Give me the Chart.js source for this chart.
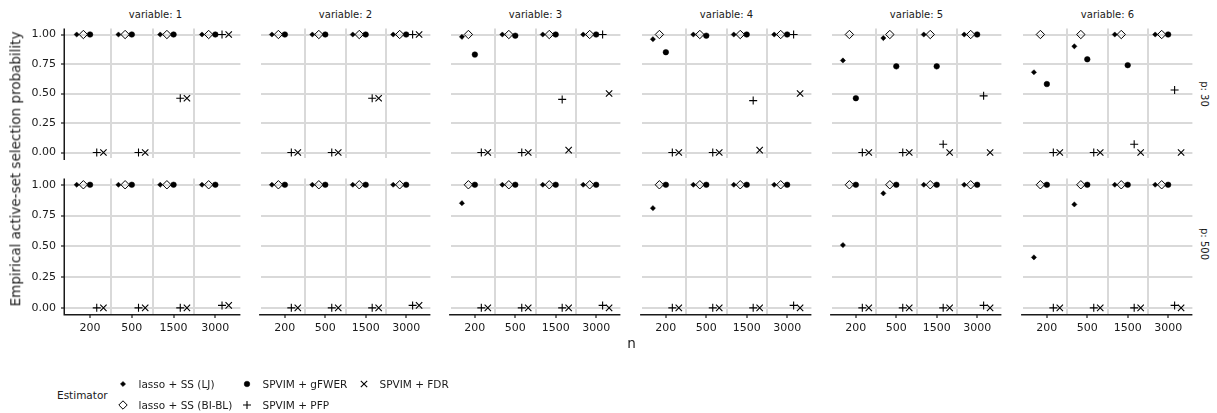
<!DOCTYPE html>
<html>
<head>
<meta charset="utf-8">
<script src="https://cdn.jsdelivr.net/npm/chart.js@4.4.1/dist/chart.umd.min.js"></script>
<style>
  html, body { margin: 0; padding: 0; background: #fff; }
  body { width: 1217px; height: 413px; position: relative; overflow: hidden;
         font-family: 'DejaVu Sans', sans-serif; color: #1a1a1a; }
  canvas { position: absolute; }
  .lbl { position: absolute; white-space: nowrap; line-height: 1; }
  .strip { font-size: 10px; transform: translate(-50%, -50%); }
  .strip-r { font-size: 10px; transform: translate(-50%, -50%) rotate(90deg); }
  .title { font-size: 13.5px; transform: translate(-50%, -50%); }
  .title-y { font-size: 13.5px; transform: translate(-50%, -50%) rotate(-90deg); }
  .leg { font-size: 10.5px; transform: translateY(-50%); }
</style>
</head>
<body>
<script>
// categories
const nLabels = ['200', '500', '1500', '3000'];
const variableNames = ['1', '2', '3', '4', '5', '6'];
const pLabels = ['30', '500'];
const estimators = ['lasso + SS (LJ)', 'lasso + SS (BI-BL)', 'SPVIM + gFWER', 'SPVIM + PFP', 'SPVIM + FDR'];
const yTicks = [0, 0.25, 0.5, 0.75, 1];

// selection probability, one row per variable, one value per n
const ljP30 = [
  [1, 1, 1, 1],
  [1, 1, 1, 1],
  [0.98, 1, 1, 1],
  [0.96, 1, 1, 1],
  [0.78, 0.97, 1, 1],
  [0.68, 0.90, 1, 1]
];
const biblP30 = [
  [1, 1, 1, 1],
  [1, 1, 1, 1],
  [1, 1, 1, 1],
  [1, 1, 1, 1],
  [1, 1, 1, 1],
  [1, 1, 1, 1]
];
const gfwerP30 = [
  [1, 1, 1, 1],
  [1, 1, 1, 1],
  [0.83, 0.99, 1, 1],
  [0.85, 0.99, 1, 1],
  [0.46, 0.73, 0.73, 1],
  [0.58, 0.79, 0.74, 1]
];
const pfpP30 = [
  [0, 0, 0.46, 1],
  [0, 0, 0.46, 1],
  [0, 0, 0.45, 1],
  [0, 0, 0.44, 1],
  [0, 0, 0.07, 0.48],
  [0, 0, 0.07, 0.53]
];
const fdrP30 = [
  [0, 0, 0.46, 1],
  [0, 0, 0.46, 1],
  [0, 0, 0.02, 0.50],
  [0, 0, 0.02, 0.50],
  [0, 0, 0, 0],
  [0, 0, 0, 0]
];

const ljP500 = [
  [1, 1, 1, 1],
  [1, 1, 1, 1],
  [0.85, 1, 1, 1],
  [0.81, 1, 1, 1],
  [0.51, 0.93, 1, 1],
  [0.41, 0.84, 1, 1]
];
const biblP500 = [
  [1, 1, 1, 1],
  [1, 1, 1, 1],
  [1, 1, 1, 1],
  [1, 1, 1, 1],
  [1, 1, 1, 1],
  [1, 1, 1, 1]
];
const gfwerP500 = [
  [1, 1, 1, 1],
  [1, 1, 1, 1],
  [1, 1, 1, 1],
  [1, 1, 1, 1],
  [1, 1, 1, 1],
  [1, 1, 1, 1]
];
const pfpP500 = [
  [0, 0, 0, 0.02],
  [0, 0, 0, 0.02],
  [0, 0, 0, 0.02],
  [0, 0, 0, 0.02],
  [0, 0, 0, 0.02],
  [0, 0, 0, 0.02]
];
const fdrP500 = [
  [0, 0, 0, 0.02],
  [0, 0, 0, 0.02],
  [0, 0, 0, 0],
  [0, 0, 0, 0],
  [0, 0, 0, 0],
  [0, 0, 0, 0]
];

const seriesByP = [
  [ljP30, biblP30, gfwerP30, pfpP30, fdrP30],
  [ljP500, biblP500, gfwerP500, pfpP500, fdrP500]
];

// panel layout
const colX = [65, 255, 445, 636, 826, 1017];
const rowY = [23, 173];
const panelW = 181;
const panelH = 141;
const dodge = 0.16;
const gridColor = '#d9d9d9';
const inkColor = '#1a1a1a';

const markers = [
  { pointStyle: 'rectRot', pointRadius: 2.6, backgroundColor: '#000', borderColor: '#000', borderWidth: 0.5 },
  { pointStyle: 'rectRot', pointRadius: 4.2, backgroundColor: 'rgba(0,0,0,0)', borderColor: '#000', borderWidth: 1 },
  { pointStyle: 'circle', pointRadius: 2.8, backgroundColor: '#000', borderColor: '#000', borderWidth: 0.5 },
  { pointStyle: 'cross', pointRadius: 4, backgroundColor: '#000', borderColor: '#000', borderWidth: 1.1 },
  { pointStyle: 'crossRot', pointRadius: 4.5, backgroundColor: '#000', borderColor: '#000', borderWidth: 1.1 }
];

Chart.defaults.font.family = "'DejaVu Sans', sans-serif";
Chart.defaults.color = inkColor;

// solid black axis lines on the outer panels (left column, bottom row)
const axisLines = {
  id: 'axisLines',
  afterDatasetsDraw(chart, args, opts) {
    const { ctx, chartArea: a } = chart;
    ctx.save();
    ctx.strokeStyle = inkColor;
    ctx.lineWidth = 1.5;
    ctx.beginPath();
    if (opts.left) { ctx.moveTo(a.left - 0.75, a.top); ctx.lineTo(a.left - 0.75, a.bottom + 1.5); }
    if (opts.bottom) { ctx.moveTo(a.left - 1.5, a.bottom + 0.75); ctx.lineTo(a.right, a.bottom + 0.75); }
    ctx.stroke();
    ctx.restore();
  }
};

function addLabel(text, cls, x, y) {
  const el = document.createElement('div');
  el.className = 'lbl ' + cls;
  el.textContent = text;
  el.style.left = x + 'px';
  el.style.top = y + 'px';
  document.body.appendChild(el);
  return el;
}

rowY.forEach((top, r) => {
  colX.forEach((left, c) => {
    const padL = c === 0 ? left : 0;
    const padB = r === 1 ? 34 : 0;
    const canvas = document.createElement('canvas');
    canvas.width = panelW + padL;
    canvas.height = panelH + padB;
    canvas.style.left = (left - padL) + 'px';
    canvas.style.top = top + 'px';
    document.body.appendChild(canvas);

    new Chart(canvas, {
      type: 'scatter',
      data: {
        datasets: estimators.map((name, k) => ({
          label: name,
          data: nLabels.map((_, i) => ({ x: i + 1 + (k - 2) * dodge, y: seriesByP[r][k][c][i] })),
          ...markers[k]
        }))
      },
      plugins: [axisLines],
      options: {
        responsive: false,
        animation: false,
        events: [],
        layout: { padding: 0 },
        plugins: {
          legend: { display: false },
          tooltip: { enabled: false },
          axisLines: { left: c === 0, bottom: r === 1 }
        },
        scales: {
          x: {
            type: 'linear',
            min: 0.4,
            max: 4.6,
            afterBuildTicks: s => { s.ticks = [1, 1.5, 2, 2.5, 3, 3.5, 4].map(v => ({ value: v })); },
            afterFit: s => { s.height = padB; s.paddingLeft = 0; s.paddingRight = 0; },
            ticks: {
              display: r === 1,
              autoSkip: false,
              maxRotation: 0,
              padding: 4,
              font: { size: 11 },
              color: inkColor,
              callback: v => Number.isInteger(v) ? nLabels[v - 1] : ''
            },
            grid: {
              // vertical lines sit between the n groups, tick marks on the groups
              color: ctx => (ctx.tick && !Number.isInteger(ctx.tick.value)) ? gridColor : 'rgba(0,0,0,0)',
              lineWidth: 2,
              drawTicks: r === 1,
              tickLength: 4,
              tickWidth: 1.2,
              tickColor: ctx => (ctx.tick && Number.isInteger(ctx.tick.value)) ? inkColor : 'rgba(0,0,0,0)'
            },
            border: { display: false }
          },
          y: {
            type: 'linear',
            min: -0.05,
            max: 1.05,
            afterBuildTicks: s => { s.ticks = yTicks.map(v => ({ value: v })); },
            afterFit: s => { s.width = padL; s.paddingTop = 0; s.paddingBottom = 0; },
            ticks: {
              display: c === 0,
              padding: 5,
              font: { size: 11 },
              color: inkColor,
              callback: v => v.toFixed(2)
            },
            grid: {
              color: gridColor,
              lineWidth: 2,
              drawTicks: c === 0,
              tickLength: 4,
              tickWidth: 1.2,
              tickColor: inkColor
            },
            border: { display: false }
          }
        }
      }
    });

    if (r === 0) addLabel('variable: ' + variableNames[c], 'strip', left + panelW / 2, 14.5);
  });
  addLabel('p: ' + pLabels[r], 'strip-r', 1204, top + panelH / 2);
});

// axis titles
addLabel('Empirical active-set selection probability', 'title-y', 16, 168.5);
addLabel('n', 'title', 631.5, 344);

// legend
addLabel('Estimator', 'leg', 57, 395);
const legendCols = [123, 247, 364];
const legendRows = [384, 405];
const legendCanvas = document.createElement('canvas');
legendCanvas.width = 400;
legendCanvas.height = 40;
legendCanvas.style.left = '0px';
legendCanvas.style.top = '373px';
document.body.appendChild(legendCanvas);
const lctx = legendCanvas.getContext('2d');
estimators.forEach((name, k) => {
  // filled column-wise: two rows per column
  const col = Math.floor(k / 2);
  const row = k % 2;
  const m = markers[k];
  lctx.save();
  lctx.fillStyle = m.backgroundColor;
  lctx.strokeStyle = m.borderColor;
  lctx.lineWidth = m.borderWidth;
  Chart.helpers.drawPoint(lctx, {
    pointStyle: m.pointStyle, radius: m.pointRadius, rotation: 0, borderWidth: m.borderWidth
  }, legendCols[col], legendRows[row] - 373);
  lctx.restore();
  addLabel(name, 'leg', legendCols[col] + 15.5, legendRows[row]);
});
</script>
</body>
</html>
